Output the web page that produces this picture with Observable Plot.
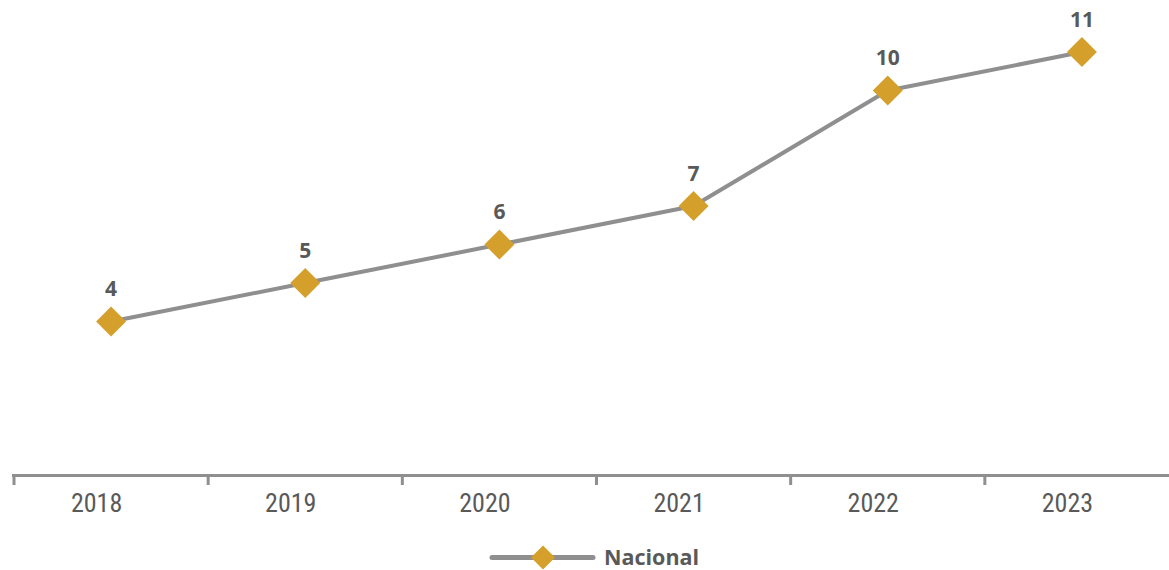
<!DOCTYPE html>
<html>
<head>
<meta charset="utf-8">
<script src="https://cdn.jsdelivr.net/npm/d3@7"></script>
<script src="https://cdn.jsdelivr.net/npm/@observablehq/plot@0.6"></script>
<style>
  html, body { margin: 0; padding: 0; background: #fff; }
  #chart { width: 1169px; position: relative; }
  #legend { position: absolute; left: 488px; top: 544px; height: 26px; line-height: 26px; display: flex; align-items: center; font-family: "Open Sans", sans-serif; font-weight: bold; font-size: 21.5px; color: #595959; }
  #legend span { line-height: 26px; }
  #legend svg { margin-right: 8px; }
</style>
</head>
<body>
<div id="chart"></div>
<div id="legend"></div>
<script>
const years = ["2018", "2019", "2020", "2021", "2022", "2023"];
const values = [4, 5, 6, 7, 10, 11];
const seriesName = "Nacional";

const data = years.map((y, i) => ({year: y, value: values[i]}));

const lineColor = "#8f8f8f";
const dotColor = "#d4a02b";
const textColor = "#595959";

const W = 1169, H = 530, base = 475;
const x0 = 13.5, x1 = 1178.5;
const bw = (x1 - x0) / years.length;

const plot = Plot.plot({
  width: W,
  height: H,
  marginLeft: 12,
  marginRight: 0,
  marginTop: 0,
  marginBottom: H - base,
  x: {type: "band", domain: years, range: [x0, x1], padding: 0, align: 0.5, round: false, label: null},
  y: {domain: [0, 12.34], range: [base, 0], label: null, axis: null},
  marks: [
    Plot.ruleY([0], {stroke: lineColor, strokeWidth: 3}),
    Plot.axisX({tickSize: 10, text: null, label: null, dx: -bw / 2, stroke: lineColor, strokeWidth: 3, strokeOpacity: 1}),
    Plot.axisX({tickSize: 0, tickPadding: 18, dx: -14.5, fontSize: 26, fill: textColor, fontFamily: "Liberation Sans Narrow, Roboto Condensed, Roboto", label: null}),
    Plot.line(data, {x: "year", y: "value", stroke: lineColor, strokeWidth: 4}),
    Plot.dot(data, {x: "year", y: "value", symbol: "diamond2", r: 13.5, fill: dotColor, stroke: null}),
    Plot.text(data, {x: "year", y: "value", text: d => String(d.value), dy: -32, fontSize: 21, fontWeight: "bold", fill: textColor, fontFamily: "Open Sans", lineAnchor: "middle"})
  ]
});
document.getElementById("chart").appendChild(plot);

// legend
const leg = document.getElementById("legend");
const ns = "http://www.w3.org/2000/svg";
const s = document.createElementNS(ns, "svg");
s.setAttribute("width", 108); s.setAttribute("height", 26);
const ln = document.createElementNS(ns, "line");
ln.setAttribute("x1", 4); ln.setAttribute("x2", 105); ln.setAttribute("y1", 13.5); ln.setAttribute("y2", 13.5);
ln.setAttribute("stroke", lineColor); ln.setAttribute("stroke-width", 5); ln.setAttribute("stroke-linecap", "round");
s.appendChild(ln);
const dm = document.createElementNS(ns, "path");
dm.setAttribute("d", "M55,1.5 L67,13.5 L55,25.5 L43,13.5 Z");
dm.setAttribute("fill", dotColor);
s.appendChild(dm);
leg.appendChild(s);
const sp = document.createElement("span");
sp.textContent = seriesName;
leg.appendChild(sp);
</script>
</body>
</html>
